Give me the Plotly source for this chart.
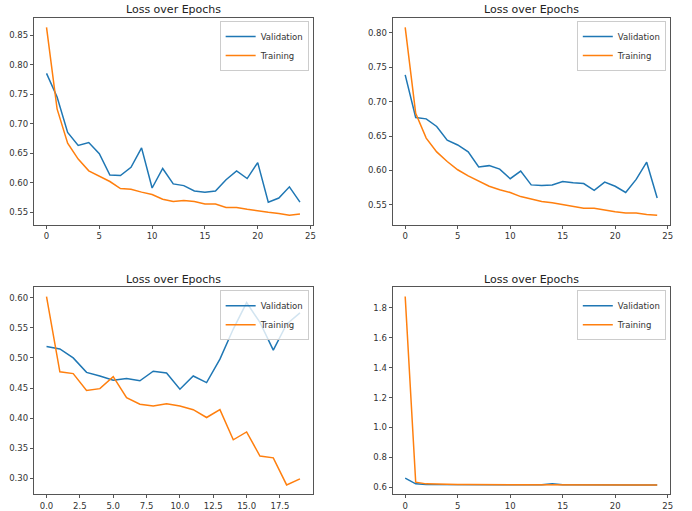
import numpy as np
import plotly.graph_objects as go

epochs25 = list(range(25))
epochs20 = list(range(20))

val1 = [0.785, 0.745, 0.685, 0.663, 0.668, 0.649, 0.613, 0.612, 0.626, 0.659,
        0.591, 0.624, 0.598, 0.595, 0.586, 0.584, 0.586, 0.605, 0.620, 0.607,
        0.634, 0.567, 0.574, 0.593, 0.567]
train1 = [0.863, 0.725, 0.667, 0.640, 0.620, 0.611, 0.602, 0.590, 0.589, 0.584,
          0.580, 0.572, 0.568, 0.570, 0.568, 0.564, 0.564, 0.558, 0.558, 0.555,
          0.552, 0.550, 0.548, 0.545, 0.547]

val2 = [0.739, 0.677, 0.675, 0.664, 0.644, 0.637, 0.627, 0.605, 0.607, 0.602,
        0.588, 0.599, 0.579, 0.578, 0.579, 0.584, 0.582, 0.581, 0.571, 0.583,
        0.577, 0.568, 0.587, 0.612, 0.560]
train2 = [0.808, 0.683, 0.647, 0.627, 0.613, 0.601, 0.592, 0.585, 0.577, 0.572,
          0.568, 0.562, 0.558, 0.555, 0.553, 0.550, 0.548, 0.545, 0.545, 0.542,
          0.540, 0.538, 0.538, 0.536, 0.535]

val3 = [0.519, 0.515, 0.500, 0.476, 0.470, 0.463, 0.466, 0.462, 0.478, 0.475,
        0.448, 0.470, 0.459, 0.498, 0.548, 0.592, 0.559, 0.513, 0.556, 0.575]
train3 = [0.602, 0.477, 0.474, 0.446, 0.449, 0.469, 0.434, 0.423, 0.420, 0.424,
          0.420, 0.414, 0.401, 0.414, 0.364, 0.377, 0.337, 0.334, 0.289, 0.299]

val4 = [0.660, 0.622, 0.618, 0.617, 0.617, 0.618, 0.616, 0.616, 0.616, 0.616,
        0.616, 0.616, 0.616, 0.616, 0.622, 0.616, 0.616, 0.615, 0.615, 0.615,
        0.615, 0.615, 0.615, 0.615, 0.615]
train4 = [1.876, 0.633, 0.622, 0.619, 0.618, 0.618, 0.617, 0.617, 0.617, 0.617,
          0.617, 0.617, 0.616, 0.616, 0.616, 0.616, 0.616, 0.615, 0.615, 0.615,
          0.615, 0.615, 0.615, 0.615, 0.615]

title_text = "Loss over Epochs"
series_names = ["Validation", "Training"]

BLUE = "#1f77b4"
ORANGE = "#ff7f0e"
W, H = 692, 511
FONT = "DejaVu Sans"
SPINE = "#555555"

panels = [
    dict(x=epochs25, v=val1, t=train1, xd=(34, 314), yd=(18, 225), dtick_x=5, fx="d", dtick_y=0.05, fy=".2f"),
    dict(x=epochs25, v=val2, t=train2, xd=(394.3, 672.7), yd=(18, 225), dtick_x=5, fx="d", dtick_y=0.05, fy=".2f"),
    dict(x=epochs20, v=val3, t=train3, xd=(34, 314), yd=(287.7, 495.3), dtick_x=2.5, fx=".1f", dtick_y=0.05, fy=".2f"),
    dict(x=epochs25, v=val4, t=train4, xd=(394.3, 672.7), yd=(287.7, 495.3), dtick_x=5, fx="d", dtick_y=0.2, fy=".1f"),
]

fig = go.Figure()
layout = dict(
    width=W, height=H, margin=dict(l=0, r=0, t=0, b=0),
    paper_bgcolor="white", plot_bgcolor="white",
    font=dict(family=FONT, size=9, color="#333333"),
    showlegend=True,
)
annotations = []

for i, p in enumerate(panels, start=1):
    sfx = "" if i == 1 else str(i)
    lg = "legend" if i == 1 else f"legend{i}"
    xs = np.array(p["x"], dtype=float)
    ys = np.array(p["v"] + p["t"], dtype=float)
    xpad = 0.05 * (xs.max() - xs.min())
    ypad = 0.05 * (ys.max() - ys.min())
    fig.add_trace(go.Scatter(x=p["x"], y=p["v"], mode="lines", name=series_names[0],
                             line=dict(color=BLUE, width=1.5), xaxis=f"x{sfx}", yaxis=f"y{sfx}",
                             legend=lg))
    fig.add_trace(go.Scatter(x=p["x"], y=p["t"], mode="lines", name=series_names[1],
                             line=dict(color=ORANGE, width=1.5), xaxis=f"x{sfx}", yaxis=f"y{sfx}",
                             legend=lg))
    x0, x1 = p["xd"][0] / W, p["xd"][1] / W
    y0, y1 = (H - p["yd"][1]) / H, (H - p["yd"][0]) / H
    common = dict(showgrid=False, zeroline=False, showline=True, linecolor=SPINE, linewidth=1,
                  mirror=True, ticks="outside", ticklen=3, tickcolor=SPINE, tickwidth=0.8,
                  tickfont=dict(family=FONT, size=8.5, color="#333333"))
    layout[f"xaxis{sfx}"] = dict(domain=[x0, x1], anchor=f"y{sfx}",
                                 range=[xs.min() - xpad, xs.max() + xpad],
                                 tick0=0, dtick=p["dtick_x"], tickformat=p["fx"], **common)
    layout[f"yaxis{sfx}"] = dict(domain=[y0, y1], anchor=f"x{sfx}",
                                 range=[ys.min() - ypad, ys.max() + ypad],
                                 tick0=0, dtick=p["dtick_y"], tickformat=p["fy"], **common)
    layout[lg] = dict(x=x1 - 4 / W, y=y1 - 3 / H, xanchor="right", yanchor="top",
                      bgcolor="rgba(255,255,255,0.8)", bordercolor="#cccccc", borderwidth=1,
                      font=dict(family=FONT, size=8.5, color="#333333"),
                      itemwidth=30, tracegroupgap=0)
    annotations.append(dict(text=title_text, x=(x0 + x1) / 2, y=y1 + 8 / H, xref="paper", yref="paper",
                            xanchor="center", yanchor="middle", showarrow=False,
                            font=dict(family=FONT, size=11, color="#222222")))

layout["annotations"] = annotations
fig.update_layout(**layout)
fig.write_html("out.html", config={"displayModeBar": False},
               post_script="document.body.style.margin='0px';document.body.style.overflow='hidden';")
